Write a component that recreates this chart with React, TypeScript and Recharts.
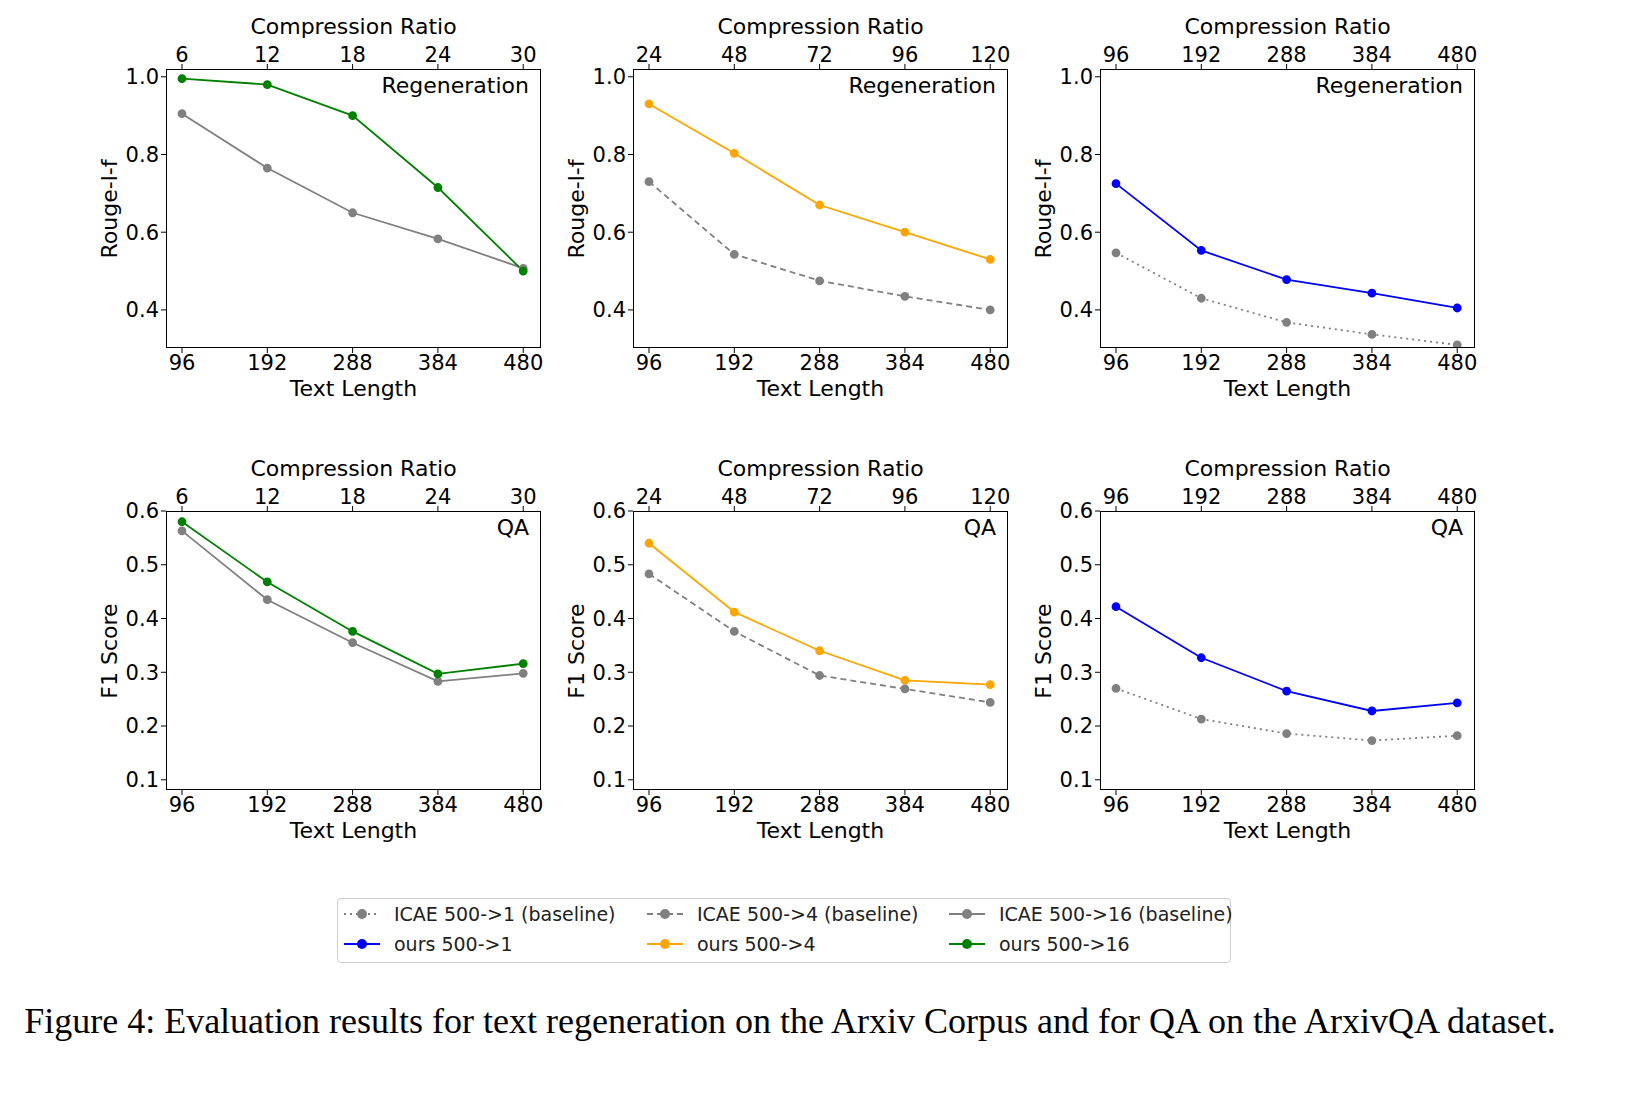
import React from 'react';
import { LineChart, Line, XAxis, YAxis } from 'recharts';

const textLength = [96, 192, 288, 384, 480];
const ratioTicks = [
  ['6', '12', '18', '24', '30'],
  ['24', '48', '72', '96', '120'],
  ['96', '192', '288', '384', '480'],
];

const regenOurs = [
  [0.995, 0.98, 0.90, 0.715, 0.50],
  [0.93, 0.803, 0.67, 0.60, 0.53],
  [0.725, 0.553, 0.478, 0.443, 0.405],
];
const regenIcae = [
  [0.905, 0.765, 0.65, 0.583, 0.507],
  [0.73, 0.543, 0.475, 0.435, 0.40],
  [0.547, 0.43, 0.368, 0.337, 0.31],
];
const qaOurs = [
  [0.58, 0.468, 0.376, 0.297, 0.316],
  [0.54, 0.412, 0.34, 0.285, 0.277],
  [0.422, 0.327, 0.265, 0.228, 0.243],
];
const qaIcae = [
  [0.563, 0.435, 0.355, 0.283, 0.298],
  [0.483, 0.376, 0.294, 0.269, 0.244],
  [0.27, 0.213, 0.186, 0.173, 0.182],
];

const oursColors = ['green', 'orange', 'blue'];
const icaeDash = [undefined, '6 4', '2 4'];
const panelLefts = [166, 633, 1100];
const rows = [
  { top: 69, key: 'regen', ours: regenOurs, icae: regenIcae, domain: [0.302, 1.02], ticks: [0.4, 0.6, 0.8, 1.0], fmt: (v: number) => v.toFixed(1), ylabel: 'Rouge-l-f', tag: 'Regeneration' },
  { top: 511, key: 'qa', ours: qaOurs, icae: qaIcae, domain: [0.081, 0.6], ticks: [0.1, 0.2, 0.3, 0.4, 0.5, 0.6], fmt: (v: number) => v.toFixed(1), ylabel: 'F1 Score', tag: 'QA' },
];

const PW = 375;
const PH = 279;
const FONT = 'DejaVu Sans, sans-serif';
const tickStyle = { fontSize: 21, fill: '#000', fontFamily: FONT };

function Panel({ left, top, col, row }: any) {
  const data = textLength.map((t, i) => ({ t, ours: row.ours[col][i], icae: row.icae[col][i] }));
  return (
    <>
      <div style={{ position: 'absolute', left: left - 90, top: top - 60 }}>
        <LineChart width={PW + 100} height={PH + 120} data={data} margin={{ top: 30, left: 40, right: 10, bottom: 30 }}>
          <XAxis xAxisId="b" dataKey="t" type="number" domain={[78, 500]} ticks={textLength} tick={tickStyle} height={30} stroke="#000" tickSize={5} axisLine={false} />
          <XAxis xAxisId="t" orientation="top" dataKey="t" type="number" domain={[78, 500]} ticks={textLength} tickFormatter={(v: number) => ratioTicks[col][textLength.indexOf(v)]} tick={tickStyle} height={30} stroke="#000" tickSize={5} axisLine={false} />
          <YAxis type="number" domain={row.domain} ticks={row.ticks} tickFormatter={row.fmt} tick={tickStyle} width={50} stroke="#000" tickSize={5} axisLine={false} allowDataOverflow />
          <Line xAxisId="b" dataKey="icae" stroke="gray" strokeWidth={1.8} strokeDasharray={icaeDash[col]} dot={{ r: 3.5, fill: 'gray', stroke: 'gray', strokeDasharray: '' }} isAnimationActive={false} />
          <Line xAxisId="b" dataKey="ours" stroke={oursColors[col]} strokeWidth={1.8} dot={{ r: 3.5, fill: oursColors[col], stroke: oursColors[col] }} isAnimationActive={false} />
        </LineChart>
      </div>
      <div style={{ position: 'absolute', left, top, width: PW, height: PH, border: '1px solid #000', boxSizing: 'border-box', pointerEvents: 'none' }} />
      <div style={{ position: 'absolute', left: left + PW - 300, width: 288, top: top + 4, textAlign: 'right', fontSize: 22, fontFamily: FONT }}>{row.tag}</div>
      <div style={{ position: 'absolute', left, width: PW, top: top - 55, textAlign: 'center', fontSize: 22, fontFamily: FONT }}>Compression Ratio</div>
      <div style={{ position: 'absolute', left, width: PW, top: top + PH + 28, textAlign: 'center', fontSize: 22, fontFamily: FONT }}>Text Length</div>
      <div style={{ position: 'absolute', left: left - 200 - 56, width: 400, top: top + PH / 2 - 13, textAlign: 'center', fontSize: 22, fontFamily: FONT, transform: 'rotate(-90deg)', transformOrigin: '200px 13px' }}>{row.ylabel}</div>
    </>
  );
}

const legendItems = [
  ['ICAE 500->1 (baseline)', 'gray', '2 4'],
  ['ICAE 500->4 (baseline)', 'gray', '6 4'],
  ['ICAE 500->16 (baseline)', 'gray', ''],
  ['ours 500->1', 'blue', ''],
  ['ours 500->4', 'orange', ''],
  ['ours 500->16', 'green', ''],
];
const legendX = [342, 645, 947];

export default function App() {
  return (
    <div style={{ position: 'absolute', left: 0, top: 0, width: 1639, height: 1100, background: '#fff' }}>
      {rows.map((row) => panelLefts.map((l, c) => <Panel key={row.key + c} left={l} top={row.top} col={c} row={row} />))}
      <div style={{ position: 'absolute', left: 337, top: 898, width: 894, height: 65, border: '1px solid #ccc', borderRadius: 4, boxSizing: 'border-box' }} />
      {legendItems.map(([label, color, dash], i) => (
        <div key={label} style={{ position: 'absolute', left: legendX[i % 3], top: 902 + Math.floor(i / 3) * 30, display: 'flex', alignItems: 'center', fontSize: 19, fontFamily: FONT, color: '#222' }}>
          <svg width={40} height={24}>
            <line x1={2} y1={12} x2={38} y2={12} stroke={color} strokeWidth={2} strokeDasharray={dash || undefined} />
            <circle cx={20} cy={12} r={5} fill={color} />
          </svg>
          <span style={{ marginLeft: 12 }}>{label}</span>
        </div>
      ))}
      <div style={{ position: 'absolute', left: 0, width: 1580, top: 1000, textAlign: 'center', fontSize: 36, fontFamily: 'Liberation Serif, serif', whiteSpace: 'nowrap' }}>
        Figure 4: Evaluation results for text regeneration on the Arxiv Corpus and for QA on the ArxivQA dataset.
      </div>
    </div>
  );
}
